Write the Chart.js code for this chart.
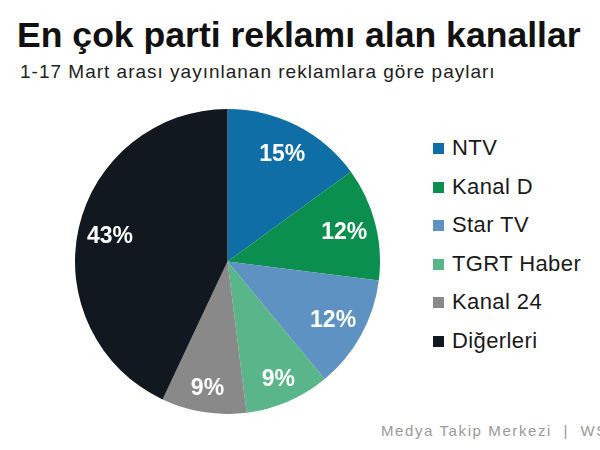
<!DOCTYPE html>
<html lang="tr">
<head>
<meta charset="utf-8">
<script src="https://cdn.jsdelivr.net/npm/chart.js@4/dist/chart.umd.min.js"></script>
<style>
  html, body { margin: 0; padding: 0; background: #fff; }
  #wrap { position: relative; width: 600px; height: 450px; overflow: hidden; font-family: "Liberation Sans", Arial, sans-serif; }
  #title { position: absolute; left: 17px; top: 15px; font-size: 35.6px; font-weight: bold; color: #111; white-space: nowrap; }
  #subtitle { position: absolute; left: 20px; top: 61px; font-size: 19px; letter-spacing: 1px; color: #222; white-space: nowrap; }
  #pie { position: absolute; left: 75px; top: 109px; }
  #legend { position: absolute; left: 433px; top: 129px; }
  .item { height: 38.5px; line-height: 38.5px; font-size: 22px; letter-spacing: 0.4px; color: #1a1a1a; white-space: nowrap; }
  .box { display: inline-block; width: 11px; height: 11px; margin-right: 8px; vertical-align: 1px; }
  #source { position: absolute; left: 381px; top: 422px; font-size: 15px; letter-spacing: 1.6px; color: #9a9a9a; white-space: nowrap; }
</style>
</head>
<body>
<div id="wrap">
  <div id="title">En çok parti reklamı alan kanallar</div>
  <div id="subtitle">1-17 Mart arası yayınlanan reklamlara göre payları</div>
  <canvas id="pie" width="305" height="305"></canvas>
  <div id="legend"></div>
  <div id="source">Medya Takip Merkezi&nbsp; |&nbsp; WSJ</div>
</div>
<script>
// Kanallar ve payları (%)
const channels = ['NTV', 'Kanal D', 'Star TV', 'TGRT Haber', 'Kanal 24', 'Diğerleri'];
const shares = [15, 12, 12, 9, 9, 43];
const colors = ['#0f6ea5', '#0b8f4e', '#5d92c2', '#5bb58b', '#898989', '#121820'];

// Legende
const legend = document.getElementById('legend');
channels.forEach((name, i) => {
  const row = document.createElement('div');
  row.className = 'item';
  row.innerHTML = `<span class="box" style="background:${colors[i]}"></span>${name}`;
  legend.appendChild(row);
});

// Prozentwerte in die Segmente schreiben
const sliceLabels = {
  id: 'sliceLabels',
  afterDatasetsDraw(chart) {
    const ctx = chart.ctx;
    const meta = chart.getDatasetMeta(0);
    ctx.save();
    ctx.fillStyle = '#fff';
    ctx.font = 'bold 23px "Liberation Sans", Arial, sans-serif';
    ctx.textAlign = 'center';
    ctx.textBaseline = 'middle';
    meta.data.forEach((arc, i) => {
      const { x, y, startAngle, endAngle, outerRadius } = arc.getProps(['x', 'y', 'startAngle', 'endAngle', 'outerRadius'], true);
      const mid = (startAngle + endAngle) / 2;
      // kleine Segmente: Beschriftung etwas weiter aussen
      const r = outerRadius * (shares[i] < 10 ? 0.84 : 0.79);
      ctx.fillText(shares[i] + '%', x + Math.cos(mid) * r, y + Math.sin(mid) * r + 1);
    });
    ctx.restore();
  }
};

new Chart(document.getElementById('pie').getContext('2d'), {
  type: 'pie',
  data: {
    labels: channels,
    datasets: [{
      data: shares,
      backgroundColor: colors,
      borderWidth: 0
    }]
  },
  options: {
    responsive: false,
    animation: false,
    layout: { padding: 0 },
    plugins: {
      legend: { display: false },
      tooltip: { enabled: false }
    }
  },
  plugins: [sliceLabels]
});
</script>
</body>
</html>
